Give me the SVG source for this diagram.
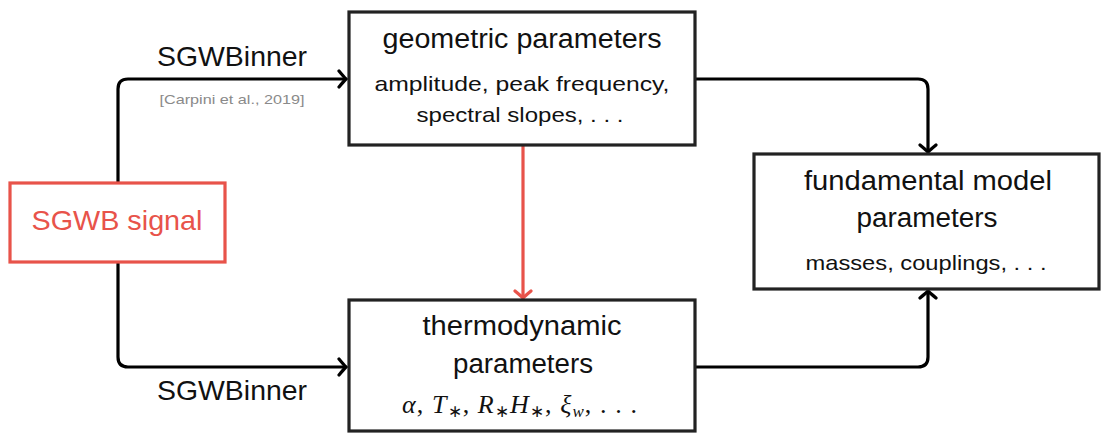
<svg xmlns="http://www.w3.org/2000/svg" width="1101" height="434" viewBox="0 0 1101 434">
<style>
.box{fill:#fff;stroke:#222;stroke-width:3.2}
.red{fill:#fff;stroke:#e8534a;stroke-width:3.2}
.con{fill:none;stroke:#000;stroke-width:3.2;stroke-linejoin:round}
.rc{fill:none;stroke:#e8534a;stroke-width:3.2}
.t{font-family:"Liberation Sans",Arial,sans-serif;fill:#111;text-anchor:middle}
.h{font-size:27px}
.s{font-size:21px}
.m{font-family:"Liberation Serif","Times New Roman",serif;font-size:26px;fill:#111}
</style>
<defs>
<marker id="ah" markerUnits="userSpaceOnUse" markerWidth="16" markerHeight="20" viewBox="-12 -10 16 20" refX="0" refY="0" orient="auto">
<path d="M-7,-8 Q-2,-2 0,0 Q-2,2 -7,8" fill="none" stroke="#000" stroke-width="3.2" stroke-linecap="round"/>
</marker>
<marker id="ahr" markerUnits="userSpaceOnUse" markerWidth="16" markerHeight="20" viewBox="-12 -10 16 20" refX="0" refY="0" orient="auto">
<path d="M-7,-8 Q-2,-2 0,0 Q-2,2 -7,8" fill="none" stroke="#e8534a" stroke-width="3.2" stroke-linecap="round"/>
</marker>
</defs>
<g id="connectors">
<path class="con" d="M118,183 V89 Q118,79 128,79 H346" marker-end="url(#ah)"/>
<path class="con" d="M118,262 V357 Q118,367 128,367 H346" marker-end="url(#ah)"/>
<path class="con" d="M695,79 H918 Q928,79 928,89 V152" marker-end="url(#ah)"/>
<path class="con" d="M695,367 H918 Q928,367 928,357 V291" marker-end="url(#ah)"/>
<path class="rc" d="M523,146 V298" marker-end="url(#ahr)"/>
<text class="t" x="232" y="66" font-size="28" textLength="150" lengthAdjust="spacingAndGlyphs">SGWBinner</text>
<text class="t" x="232" y="104" font-size="13" style="fill:#8a8a8a" textLength="145" lengthAdjust="spacingAndGlyphs">[Carpini et al., 2019]</text>
<text class="t" x="232" y="400" font-size="28" textLength="150" lengthAdjust="spacingAndGlyphs">SGWBinner</text>
</g>
<g id="sgwb">
<rect class="red" x="10" y="183" width="215" height="79"/>
<text class="t" x="117" y="230" font-size="28" style="fill:#e8534a" textLength="171" lengthAdjust="spacingAndGlyphs">SGWB signal</text>
</g>
<g id="geometric">
<rect class="box" x="349" y="12" width="346" height="133"/>
<text class="t h" x="522" y="48" textLength="279" lengthAdjust="spacingAndGlyphs">geometric parameters</text>
<text class="t s" x="522" y="91" textLength="295" lengthAdjust="spacingAndGlyphs">amplitude, peak frequency,</text>
<text class="t s" x="520" y="122" textLength="207" lengthAdjust="spacingAndGlyphs">spectral slopes, . . .</text>
</g>
<g id="thermodynamic">
<rect class="box" x="349" y="300" width="346" height="131"/>
<text class="t h" x="522" y="335" textLength="199" lengthAdjust="spacingAndGlyphs">thermodynamic</text>
<text class="t h" x="523" y="373" textLength="140" lengthAdjust="spacingAndGlyphs">parameters</text>
<text class="m" x="402" y="413" textLength="235" lengthAdjust="spacing"><tspan font-style="italic">α</tspan>, <tspan font-style="italic">T</tspan><tspan font-size="17" dy="4">∗</tspan><tspan dy="-4">, </tspan><tspan font-style="italic">R</tspan><tspan font-size="17" dy="4">∗</tspan><tspan font-style="italic" dy="-4">H</tspan><tspan font-size="17" dy="4">∗</tspan><tspan dy="-4">, </tspan><tspan font-style="italic">ξ</tspan><tspan font-style="italic" font-size="17" dy="4">w</tspan><tspan dy="-4">, . . .</tspan></text>
</g>
<g id="fundamental">
<rect class="box" x="754" y="154" width="345" height="135"/>
<text class="t h" x="928" y="190" textLength="248" lengthAdjust="spacingAndGlyphs">fundamental model</text>
<text class="t h" x="927" y="227" textLength="141" lengthAdjust="spacingAndGlyphs">parameters</text>
<text class="t s" x="926" y="270" textLength="241" lengthAdjust="spacingAndGlyphs">masses, couplings, . . .</text>
</g>
</svg>
